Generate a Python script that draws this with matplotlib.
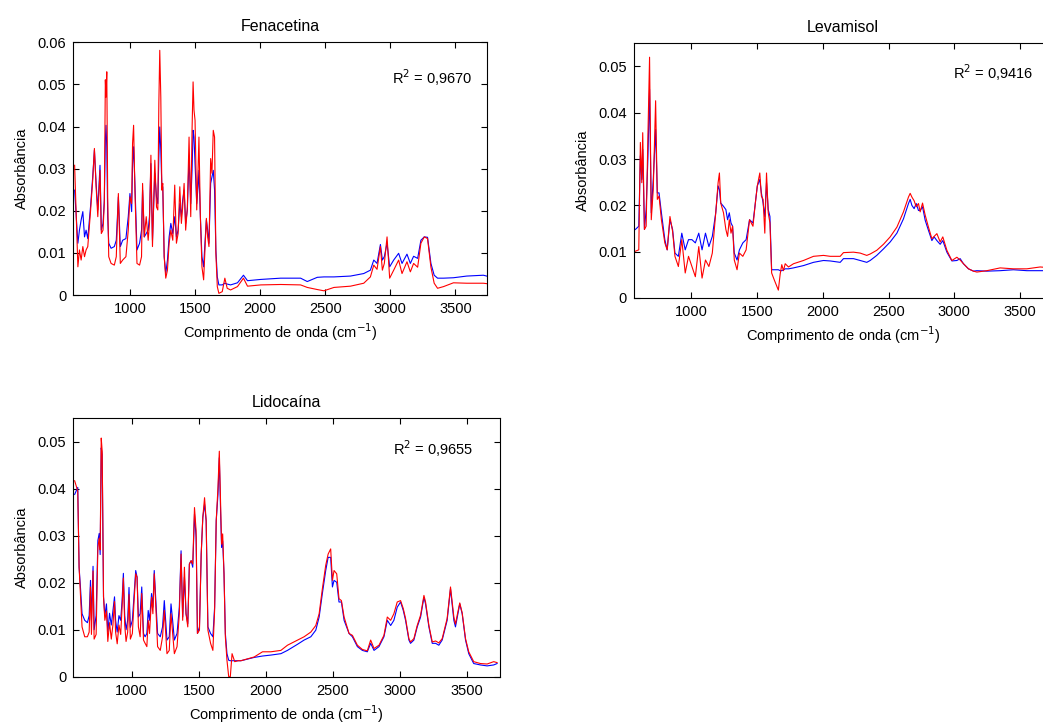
import matplotlib
matplotlib.use("Agg")
import matplotlib.pyplot as plt
import numpy as np
from matplotlib.ticker import FuncFormatter

plt.rcParams['font.family'] = ['Liberation Sans', 'DejaVu Sans']
plt.rcParams['font.size'] = 10.5

# absorbance values below are in units of 1e-3

# Fenacetina
wn_fen = [575, 600, 612, 625, 638, 651, 663, 676, 697, 714,
          727, 740, 753, 770, 780, 793, 803, 811, 816, 822,
          829, 837, 855, 880, 895, 911, 926, 944, 969, 987,
          1000, 1013, 1020, 1028, 1038, 1054, 1074, 1089, 1097, 1110,
          1125, 1140, 1150, 1161, 1173, 1191, 1204, 1214, 1222, 1229,
          1237, 1245, 1252, 1263, 1275, 1288, 1301, 1314, 1329, 1344,
          1357, 1370, 1383, 1395, 1405, 1416, 1428, 1441, 1454, 1467,
          1477, 1485, 1492, 1500, 1513, 1523, 1530, 1541, 1553, 1566,
          1576, 1587, 1597, 1607, 1620, 1630, 1640, 1650, 1660, 1671,
          1683, 1709, 1729, 1747, 1773, 1826, 1872, 1903, 2005, 2158,
          2311, 2362, 2439, 2490, 2567, 2694, 2796, 2847, 2873, 2898,
          2924, 2939, 2954, 2975, 2995, 3026, 3064, 3090, 3128, 3154,
          3179, 3210, 3235, 3261, 3286, 3312, 3337, 3363, 3409, 3485,
          3587, 3715, 3740]
blue_fen = [24.9, 12.3, 15.4, 17.8, 19.8, 13.8, 15.4, 13.4, 20.9, 28.1,
            34.4, 26.5, 20.2, 30.8, 15.4, 17.0, 22.5, 36.8, 40.3, 35.2,
            18.6, 12.3, 11.1, 11.5, 13.0, 23.3, 11.5, 13.0, 13.4, 18.6,
            24.1, 19.8, 31.2, 35.2, 26.5, 10.7, 12.3, 15.4, 24.9, 13.8,
            14.6, 15.4, 18.6, 31.2, 13.0, 28.9, 23.3, 21.7, 32.8, 39.9,
            34.4, 25.7, 25.7, 9.1, 5.1, 8.3, 13.8, 17.0, 14.6, 18.6,
            13.8, 15.4, 21.7, 18.6, 22.5, 24.9, 17.0, 20.2, 32.8, 21.7,
            29.6, 39.1, 37.5, 31.2, 21.7, 25.7, 29.6, 18.6, 9.1, 6.7,
            12.3, 17.8, 15.4, 12.3, 26.5, 28.1, 29.6, 24.9, 10.7, 4.3,
            2.4, 2.4, 2.8, 2.6, 2.4, 2.9, 4.7, 3.4, 3.7, 4.0,
            4.0, 3.2, 4.2, 4.3, 4.3, 4.5, 5.1, 5.9, 8.3, 7.5,
            12.0, 8.3, 9.1, 12.3, 6.7, 8.3, 9.9, 7.5, 9.7, 7.5,
            9.2, 8.7, 13.0, 13.8, 13.7, 7.5, 4.7, 4.0, 4.0, 4.1,
            4.5, 4.7, 4.5]
red_fen = [30.8, 6.7, 10.7, 8.3, 11.5, 9.1, 10.7, 11.5, 19.8, 27.3,
           34.8, 25.7, 18.6, 29.6, 14.6, 15.4, 21.7, 51.1, 47.0, 53.0,
           23.3, 9.1, 7.5, 7.1, 9.1, 24.1, 7.5, 8.3, 9.1, 15.4,
           23.3, 21.7, 36.0, 40.3, 24.9, 7.5, 7.1, 9.1, 26.5, 13.8,
           18.6, 13.0, 17.0, 33.2, 11.5, 32.0, 20.9, 20.2, 45.5, 58.1,
           47.0, 24.9, 26.5, 9.1, 4.0, 5.9, 12.3, 15.4, 13.0, 26.1,
           12.3, 14.6, 25.7, 17.0, 20.9, 26.5, 15.4, 20.9, 37.5, 18.6,
           39.1, 50.6, 43.9, 41.5, 20.2, 29.6, 37.5, 18.6, 6.7, 3.6,
           10.7, 18.2, 13.8, 11.5, 32.4, 28.9, 39.1, 37.5, 9.9, 2.0,
           0.4, 0.8, 4.0, 1.6, 1.2, 2.0, 4.0, 2.1, 2.4, 2.5,
           2.4, 1.8, 1.3, 1.0, 1.8, 2.1, 2.8, 4.3, 7.1, 6.1,
           11.5, 5.9, 7.5, 13.8, 4.0, 5.9, 8.3, 5.1, 7.9, 5.5,
           7.5, 6.6, 12.3, 13.8, 13.4, 6.6, 2.8, 1.6, 2.0, 2.9,
           2.8, 2.8, 2.7]

# Levamisol
wn_lev = [575, 601, 613, 624, 631, 644, 657, 670, 683, 696,
          711, 729, 742, 755, 773, 799, 817, 838, 858, 876,
          902, 928, 954, 979, 1005, 1031, 1057, 1082, 1108, 1134,
          1160, 1186, 1204, 1214, 1224, 1245, 1263, 1276, 1289, 1302,
          1314, 1327, 1348, 1366, 1392, 1417, 1443, 1469, 1487, 1502,
          1521, 1533, 1546, 1559, 1572, 1585, 1598, 1611, 1631, 1662,
          1676, 1688, 1701, 1714, 1739, 1777, 1853, 1929, 2005, 2056,
          2132, 2157, 2233, 2284, 2334, 2360, 2410, 2461, 2512, 2563,
          2613, 2651, 2664, 2677, 2694, 2710, 2727, 2740, 2758, 2778,
          2803, 2829, 2846, 2867, 2892, 2912, 2943, 2981, 3019, 3044,
          3069, 3107, 3145, 3171, 3247, 3348, 3449, 3551, 3652, 3740]
blue_lev = [14.8, 15.5, 30.7, 25.6, 32.1, 14.8, 19.1, 29.9, 45.1, 18.4,
            25.6, 36.4, 22.7, 22.7, 18.4, 12.6, 10.4, 16.9, 14.8, 9.7,
            9.0, 14.0, 10.4, 12.6, 12.6, 11.9, 14.0, 10.4, 14.0, 11.1,
            13.3, 18.4, 24.2, 23.4, 20.5, 19.8, 19.1, 16.9, 18.4, 16.2,
            15.5, 9.7, 8.2, 10.4, 11.9, 12.6, 16.9, 16.2, 20.5, 24.2,
            25.6, 22.7, 20.5, 17.6, 24.9, 19.1, 17.6, 6.1, 6.1, 6.1,
            5.9, 5.9, 6.1, 6.3, 6.3, 6.5, 7.0, 7.7, 8.1, 8.0,
            7.7, 8.5, 8.5, 8.1, 7.7, 8.1, 9.2, 10.6, 12.1, 14.0,
            17.1, 20.4, 21.3, 20.0, 19.3, 20.4, 18.9, 18.9, 19.7, 16.8,
            14.6, 12.4, 13.2, 12.4, 11.6, 12.4, 9.9, 8.0, 8.1, 8.5,
            7.4, 6.3, 5.8, 5.9, 5.8, 5.9, 6.1, 5.9, 5.9, 5.9]
red_lev = [10.1, 10.4, 33.6, 24.9, 35.7, 14.8, 15.5, 34.3, 52.0, 16.9,
           23.4, 42.6, 21.3, 22.0, 16.9, 11.9, 10.4, 17.6, 14.4, 9.0,
           6.8, 12.6, 5.4, 9.0, 6.8, 4.6, 11.1, 4.3, 8.2, 6.8,
           9.7, 18.4, 24.9, 27.0, 20.5, 18.4, 14.8, 13.3, 16.9, 14.0,
           15.5, 8.2, 6.1, 9.7, 9.0, 10.4, 16.9, 15.5, 20.5, 24.2,
           27.0, 22.0, 21.3, 14.0, 27.0, 18.4, 16.2, 5.4, 3.9, 1.7,
           5.2, 7.2, 5.9, 7.4, 6.7, 7.4, 8.1, 9.0, 9.2, 9.0,
           9.0, 9.8, 9.9, 9.7, 9.2, 9.5, 10.3, 11.6, 13.2, 15.3,
           18.6, 21.8, 22.6, 21.8, 21.0, 19.7, 20.4, 18.6, 20.5, 17.9,
           15.3, 12.8, 13.3, 13.9, 12.1, 13.2, 10.3, 8.1, 8.8, 8.2,
           7.4, 6.3, 5.8, 5.6, 5.9, 6.5, 6.3, 6.3, 6.7, 6.5]

# Lidocaína
wn_lid = [575, 598, 608, 618, 630, 650, 670, 683, 693, 700,
          712, 720, 735, 748, 758, 765, 773, 780, 790, 800,
          812, 822, 835, 848, 860, 872, 880, 892, 905, 918,
          928, 938, 948, 958, 970, 980, 990, 1005,
          1018, 1030, 1040, 1050, 1063, 1075, 1088,
          1100, 1113, 1123, 1133, 1148, 1158, 1168, 1180, 1193, 1213,
          1230, 1243, 1263, 1280, 1293, 1305, 1318, 1338, 1355, 1368,
          1380, 1393, 1405, 1418, 1430, 1443, 1455, 1468, 1480, 1490,
          1505, 1518, 1530, 1543, 1555, 1568, 1588, 1605, 1618, 1630,
          1643, 1653, 1663, 1670, 1678, 1688, 1698, 1710, 1723, 1735,
          1748, 1768, 1793, 1814, 1913, 1975, 2037, 2112, 2161, 2236,
          2285, 2335, 2372, 2397, 2421, 2446, 2464, 2483, 2496, 2508,
          2528, 2545, 2563, 2583, 2620, 2645, 2682, 2719, 2756, 2781,
          2806, 2843, 2880, 2905, 2930, 2954, 2979, 3004, 3024, 3041,
          3066, 3078, 3103, 3128, 3153, 3178, 3190, 3215, 3240, 3265,
          3289, 3314, 3351, 3376, 3401, 3413, 3431, 3445, 3463, 3488,
          3512, 3549, 3599, 3649, 3698, 3723]
blue_lid = [38.8, 40.3, 23.3, 19.1, 13.4, 12.0, 11.5, 13.0, 20.5, 12.0,
            23.5, 10.0, 13.0, 29.0, 30.5, 26.0, 48.7, 47.3, 17.0, 13.0,
            15.5, 9.5, 13.5, 11.0, 14.0, 17.0, 12.0, 9.5, 13.0, 12.0,
            16.0, 22.0, 13.0, 10.0, 12.0, 19.0, 10.5, 12.0,
            17.7, 22.6, 21.2, 12.7, 13.4, 19.1, 9.2,
            8.5, 9.2, 14.1, 12.0, 17.7, 14.8, 22.6, 16.2, 9.2, 8.5,
            10.6, 16.2, 7.8, 8.5, 15.5, 12.0, 7.8, 9.2, 14.8, 26.8,
            12.7, 21.2, 13.4, 11.3, 24.0, 24.7, 23.3, 34.6, 29.7, 9.2,
            10.6, 26.1, 33.9, 36.7, 33.2, 10.6, 9.2, 8.5, 14.8, 33.2,
            38.8, 46.6, 34.6, 27.5, 28.9, 21.9, 9.2, 4.9, 3.5, 3.4,
            3.4, 3.4, 3.4, 3.4, 4.1, 4.4, 4.6, 4.9, 5.6, 6.9,
            7.8, 8.5, 9.9, 12.7, 17.7, 22.6, 25.4, 25.4, 19.1, 20.5,
            20.1, 15.9, 15.9, 12.0, 9.2, 8.5, 6.4, 5.6, 5.3, 7.1,
            5.6, 6.4, 8.5, 12.0, 10.9, 12.0, 14.8, 15.9, 14.1, 12.0,
            7.8, 7.1, 7.8, 10.6, 12.7, 16.9, 15.5, 10.6, 7.1, 7.1,
            6.7, 7.8, 12.0, 18.7, 12.0, 10.6, 13.4, 15.5, 13.4, 7.8,
            4.9, 2.8, 2.5, 2.3, 2.5, 2.8]
red_lid = [41.7, 39.5, 23.3, 17.7, 10.6, 8.5, 8.5, 9.5, 19.1, 9.0,
           22.5, 8.0, 9.0, 27.5, 29.5, 27.0, 50.8, 48.0, 17.0, 12.0,
           14.0, 7.5, 11.5, 8.0, 11.0, 16.0, 9.5, 7.0, 11.0, 9.0,
           14.5, 21.0, 11.0, 7.5, 9.5, 17.5, 8.0, 9.2,
           16.2, 21.9, 21.2, 10.6, 8.5, 17.7, 7.8,
           7.1, 6.4, 12.0, 9.2, 16.9, 13.4, 21.9, 14.8, 6.4, 5.6,
           8.5, 14.1, 4.9, 5.6, 13.4, 9.2, 4.9, 6.4, 13.4, 26.1,
           12.0, 23.3, 13.4, 10.6, 24.0, 24.7, 24.0, 36.0, 31.1, 9.2,
           9.9, 26.1, 33.9, 38.1, 33.2, 9.9, 7.1, 5.6, 14.1, 33.2,
           40.3, 48.0, 36.0, 28.2, 30.4, 21.9, 8.5, 3.5, 0.0, 0.0,
           4.9, 3.2, 3.4, 3.4, 4.2, 5.3, 5.3, 5.6, 6.7, 7.8,
           8.5, 9.5, 10.9, 13.4, 18.7, 23.7, 26.1, 27.2, 20.5, 22.6,
           21.9, 16.6, 16.2, 12.7, 9.2, 8.8, 6.7, 5.8, 5.5, 7.8,
           6.0, 6.7, 8.8, 12.7, 12.0, 13.4, 15.9, 16.2, 14.5, 12.4,
           8.1, 7.4, 8.1, 10.9, 13.1, 17.3, 15.9, 10.9, 7.4, 7.6,
           7.2, 8.1, 12.4, 19.1, 12.7, 11.2, 13.8, 15.7, 13.6, 8.1,
           5.3, 3.2, 2.8, 2.7, 3.2, 3.0]

titles = ['Fenacetina', 'Levamisol', 'Lidocaína']
r2_labels = ['R$^2$ = 0,9670', 'R$^2$ = 0,9416', 'R$^2$ = 0,9655']
ytops = [0.06, 0.055, 0.055]

panels = [(wn_fen, blue_fen, red_fen), (wn_lev, blue_lev, red_lev), (wn_lid, blue_lid, red_lid)]
# axes boxes in figure fractions
boxes = [[0.0703, 0.5942, 0.3969, 0.3476],
         [0.6079, 0.5901, 0.4011, 0.3503],
         [0.0703, 0.0692, 0.4091, 0.3554]]
r2_pos = [(0.964, 0.862), (0.955, 0.883), (0.9375, 0.881)]

fig = plt.figure(figsize=(10.43, 7.27), dpi=100)

def yfmt(v, pos):
    if abs(v) < 1e-9:
        return '0'
    return '%.2f' % v

for i in range(3):
    wn, b, r = panels[i]
    assert len(wn) == len(b) == len(r)
    ax = fig.add_axes(boxes[i])
    ax.plot(wn, np.array(b) / 1000, color='b', lw=0.8)
    ax.plot(wn, np.array(r) / 1000, color='r', lw=0.8)
    ax.set_xlim(565, 3745)
    ax.set_ylim(0, ytops[i])
    ax.set_xticks([1000, 1500, 2000, 2500, 3000, 3500])
    ax.set_yticks(np.arange(0, ytops[i] + 1e-9, 0.01))
    ax.yaxis.set_major_formatter(FuncFormatter(yfmt))
    ax.tick_params(direction='in', top=True, right=True, length=4, width=0.8, pad=5)
    for s in ax.spines.values():
        s.set_linewidth(0.8)
    ax.set_title(titles[i], pad=8, fontsize=11.5)
    ax.set_xlabel('Comprimento de onda (cm$^{-1}$)', labelpad=4)
    ax.set_ylabel('Absorbância', labelpad=6)
    ax.text(r2_pos[i][0], r2_pos[i][1], r2_labels[i], transform=ax.transAxes,
            ha='right', va='center')

fig.savefig('out.png', dpi=100)
